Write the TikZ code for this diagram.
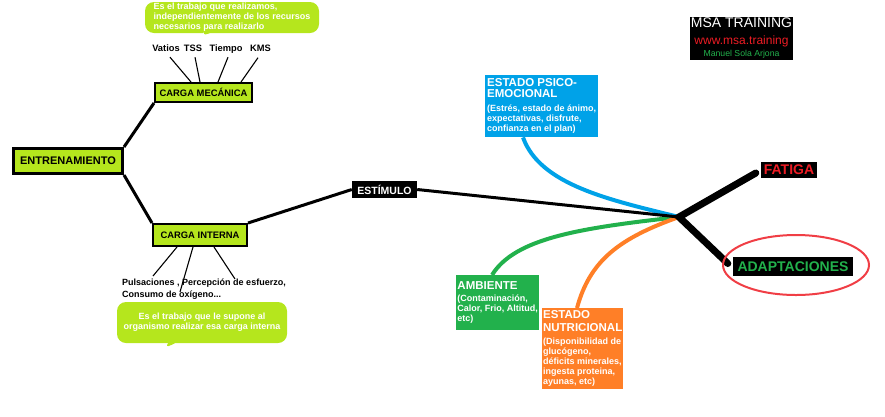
\documentclass[tikz,border=0pt]{standalone}
\usepackage{fontspec}
\setmainfont{Liberation Sans}
\usepackage{tikz}
\usetikzlibrary{calc,shapes.callouts}
\definecolor{msalima}{RGB}{181,230,29}
\definecolor{msaazul}{RGB}{0,162,232}
\definecolor{msaverde}{RGB}{34,177,76}
\definecolor{msanaranja}{RGB}{255,127,39}
\definecolor{msarojo}{RGB}{237,28,36}
\tikzset{
  mtbox/.style   ={rectangle, draw=black, fill=msalima, line width=2pt, inner sep=0pt,
                   font=\bfseries\fontsize{9.4}{11}\selectfont},
  mtroot/.style  ={mtbox, line width=3pt, font=\bfseries\fontsize{11}{13}\selectfont},
  mtnote/.style  ={rectangle callout, rounded corners=9pt, fill=msalima, text=white, inner sep=0pt,
                   font=\bfseries\fontsize{9}{10}\selectfont},
  mtlabel/.style ={inner sep=0pt, text height=7pt, text depth=2pt,
                   font=\bfseries\fontsize{9.3}{11}\selectfont},
  mtfactor/.style={rectangle, anchor=north west, text=white, align=left, inner sep=0pt,
                   font=\bfseries\fontsize{9}{10}\selectfont},
  mttag/.style   ={rectangle, fill=black, inner sep=0pt, font=\bfseries\fontsize{14}{16}\selectfont},
  mtedge/.style  ={line width=3pt, black},
  mtthin/.style  ={line width=1.1pt, black},
  mtflow/.style  ={line width=4pt},
  mtexit/.style  ={line width=7pt, black, line cap=round, line join=miter},
  mtring/.style  ={line width=2pt, msarojo!85},
}
\newcommand{\mthd}{\fontsize{11.5}{10}\selectfont}
\newcommand{\mtsb}{\fontsize{9}{10}\selectfont}

\begin{document}
\begin{tikzpicture}[x=1pt,y=-1pt]
  \useasboundingbox (0,0) rectangle (885,416);
  % tronco
  \node[mtroot, minimum width=109pt, minimum height=25pt] (entr) at (68,161) {ENTRENAMIENTO};
  \node[mtbox, minimum width=97pt, minimum height=19pt]  (cmec) at (203.5,92.5) {CARGA MEC\'ANICA};
  \node[mtbox, minimum width=94pt, minimum height=22pt]  (cint) at (200,235) {CARGA INTERNA};
  \draw[mtedge] (entr.north east) -- (cmec.south west);
  \draw[mtedge] (entr.south east) -- (cint.north west);
  % carga mecanica
  \node[mtnote, minimum width=174pt, minimum height=31pt, align=left,
        callout absolute pointer={(200,37)}] (nmec) at (232,17.5)
        {Es el trabajo que realizamos,\\independientemente de los recursos\\necesarios para realizarlo};
  \node[mtlabel] (vatios) at (166,49)   {Vatios};
  \node[mtlabel] (tss)    at (193,49)   {TSS};
  \node[mtlabel] (tiempo) at (226,49)   {Tiempo};
  \node[mtlabel] (kms)    at (260.5,49) {KMS};
  \draw[mtthin] ($(vatios.south)+(4,3.5)$)  -- ($(cmec.north west)+(37,0)$);
  \draw[mtthin] ($(tss.south)+(2,3.5)$)     -- ($(cmec.north west)+(46,0)$);
  \draw[mtthin] ($(tiempo.south)+(2,3.5)$)  -- ($(cmec.north west)+(64,0)$);
  \draw[mtthin] ($(kms.south)+(-2.5,4)$)    -- ($(cmec.north west)+(87,0)$);
  % carga interna
  \node[inner sep=0pt, anchor=north west, align=left, font=\bfseries\fontsize{9}{12}\selectfont]
        (labint) at (122,279) {Pulsaciones , Percepci\'on de esfuerzo,\\Consumo de ox\'igeno...};
  \draw[mtthin] ($(cint.south west)+(25,0)$) -- ($(labint.north west)+(31,-3)$);
  \draw[mtthin] ($(cint.south west)+(41,0)$) -- ($(labint.north west)+(58,13)$);
  \draw[mtthin] ($(cint.south west)+(62,0)$) -- ($(labint.north west)+(113,0)$);
  \node[mtnote, minimum width=170pt, minimum height=41pt, align=center,
        callout absolute pointer={(163,349)}] (nint) at (202,322.5)
        {Es el trabajo que le supone al\\organismo realizar esa carga interna};
  % estimulo
  \node[mttag, text=white, font=\bfseries\fontsize{10.5}{12}\selectfont,
        minimum width=65pt, minimum height=17pt] (estim) at (384.5,189.5) {EST\'IMULO};
  \coordinate (hub) at (679,217);
  \draw[mtedge] (cint.north east) -- (estim.west);
  % factores
  \node[mtfactor, fill=msaazul, minimum width=113pt, minimum height=62pt] (psico) at (485,75)
        {\mthd ESTADO PSICO-\\[1pt]\mthd EMOCIONAL\\[4pt]\mtsb (Estr\'es, estado de \'animo,\\
         \mtsb expectativas, disfrute,\\\mtsb confianza en el plan)};
  \node[mtfactor, fill=msaverde, minimum width=83pt, minimum height=55pt] (amb) at (456,275)
        {\mthd AMBIENTE\\[2pt]\mtsb (Contaminaci\'on,\\\mtsb Calor, Frio, Altitud,\\\mtsb etc)};
  \node[mtfactor, fill=msanaranja, minimum width=81pt, minimum height=81pt] (nutri) at (542,308)
        {\mthd ESTADO\\[3pt]\mthd NUTRICIONAL\\[3pt]\mtsb (Disponibilidad de\\\mtsb gluc\'ogeno,\\
         \mtsb d\'eficits minerales,\\\mtsb ingesta proteina,\\\mtsb ayunas, etc)};
  \draw[mtflow, msaazul]    ($(psico.south west)+(38,0)$) .. controls (540,185) and (610,200) .. (hub);
  \draw[mtflow, msaverde]   ($(amb.north west)+(36,0)$)   .. controls (515,238) and (580,228) .. (hub);
  \draw[mtflow, msanaranja] ($(nutri.north west)+(35,0)$) .. controls (590,260) and (620,238) .. (hub);
  \draw[mtedge] (estim.east) -- (hub);
  % salidas
  \node[mttag, text=msarojo, minimum width=56pt, minimum height=16pt]   (fatiga) at (789,170) {FATIGA};
  \node[mttag, text=msaverde, minimum width=120pt, minimum height=19pt] (adapt)  at (793,266.5) {ADAPTACIONES};
  \draw[mtexit] ($(fatiga.west)+(-5,3)$) -- (hub) -- ($(adapt.west)+(-5,-3)$);
  \draw[mtring] ($(adapt.center)+(3,-1.5)$) ellipse [x radius=73pt, y radius=30pt];
  % firma
  \node[fill=black, minimum width=103pt, minimum height=43pt, inner sep=0pt, align=center] (msa) at (741.5,38.5)
        {\fontsize{14}{12}\selectfont\color{white}MSA TRAINING\\[5pt]
         \fontsize{12}{12}\selectfont\color{msarojo}www.msa.training\\
         \fontsize{8.7}{11}\selectfont\color{msaverde}Manuel Sola Arjona};
\end{tikzpicture}
\end{document}
